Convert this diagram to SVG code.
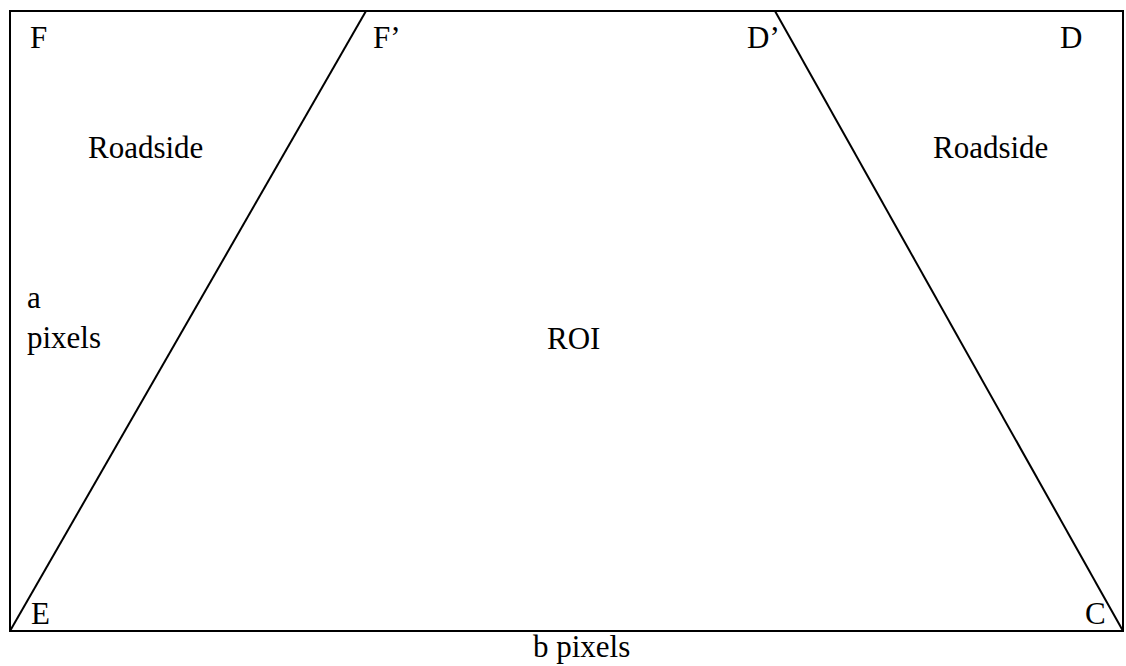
<svg xmlns="http://www.w3.org/2000/svg" width="1126" height="666" viewBox="0 0 1126 666">
<style>
text{font-family:'Liberation Serif','Times New Roman','DejaVu Serif',serif;font-size:31px;fill:#000}
.ln{stroke:#000;stroke-width:2;fill:none}
</style>
<rect width="1126" height="666" fill="#fff"/>
<g id="frame"><rect class="ln" x="10" y="11" width="1113" height="620" stroke-width="2.5"/></g>
<g id="connectors">
<line class="ln" x1="366" y1="11" x2="10" y2="631"/>
<line class="ln" x1="775" y1="11" x2="1123" y2="631"/>
</g>
<g id="labels" font-family="Liberation Serif, serif">
<text x="30" y="48">F</text>
<text x="373" y="48">F’</text>
<text x="747" y="48">D’</text>
<text x="1060" y="48">D</text>
<text x="88" y="158">Roadside</text>
<text x="933" y="158">Roadside</text>
<text x="27" y="308">a</text>
<text x="27" y="348">pixels</text>
<text x="547" y="349">ROI</text>
<text x="31" y="624">E</text>
<text x="1085" y="624">C</text>
<text x="533" y="657">b pixels</text>
</g>
</svg>
